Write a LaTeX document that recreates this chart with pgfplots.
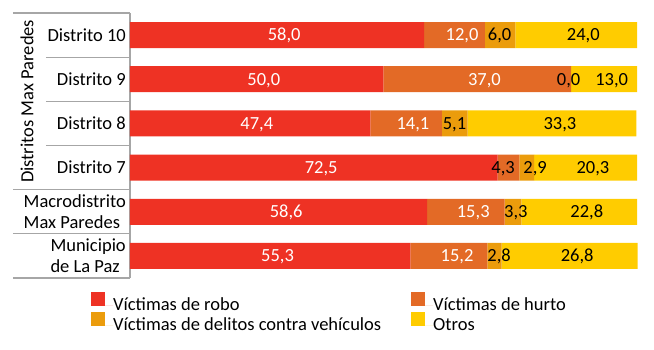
\documentclass[border=0pt]{standalone}
\usepackage{fontspec}
\setmainfont{Carlito}
\usepackage{pgfplots}
\usepackage{pgfplotstable}
\pgfplotsset{compat=1.18}
\definecolor{robo}{HTML}{EE3224}
\definecolor{hurto}{HTML}{E36A26}
\definecolor{veh}{HTML}{EB9C0C}
\definecolor{otros}{HTML}{FFCC00}
\definecolor{linegray}{HTML}{A6A6A6}
\pgfplotstableread{
y robo hurto veh otros
0 58.0 12.0 6.0 24.0
1 50.0 37.0 0.0 13.0
2 47.4 14.1 5.1 33.3
3 72.5 4.3 2.9 20.3
4 58.6 15.3 3.3 22.8
5 55.3 15.2 2.8 26.8
}\datatable
\pgfplotstableread{
x y v
30.4 0 58,0
65.5 0 12,0
26.4 1 50,0
69.9 1 37,0
25.0 2 47,4
55.8 2 14,1
37.7 3 72,5
30.8 4 58,6
67.7 4 15,3
29.1 5 55,3
64.5 5 15,2
}\whitelabels
\pgfplotstableread{
x y v
72.9 0 6,0
89.4 0 24,0
86.5 1 0,0
95.0 1 13,0
64.0 2 5,1
84.8 2 33,3
73.6 3 4,3
79.9 3 2,9
91.3 3 20,3
76.1 4 3,3
90.1 4 22,8
72.8 5 2,8
88.2 5 26,8
}\blacklabels
\newcommand{\fs}{\fontsize{18.5}{21}\selectfont}
\begin{document}
\begin{tikzpicture}
\path (-130pt,-72pt) rectangle (524pt,278pt);
\begin{axis}[
  at={(0,0)}, anchor=south west,
  scale only axis, width=507pt, height=265pt,
  xbar stacked, bar width=26pt,
  xmin=0, xmax=100, ymin=-0.5, ymax=5.5, y dir=reverse,
  axis line style={draw=none}, tick style={draw=none},
  xtick=\empty,
  ytick={0,...,5},
  yticklabels={Distrito 10, Distrito 9, Distrito 8, Distrito 7, {Macrodistrito\\Max Paredes}, {Municipio\\de La Paz}},
  yticklabel style={font=\fs, align=left, inner sep=0pt, xshift=-4pt},
  clip=false,
  legend columns=2,
  legend cell align=left,
  legend image code/.code={\fill[#1] (0pt,-0.5pt) rectangle (14pt,13.5pt); \path (0pt,0pt) -- (22pt,0pt);},
  legend style={at={(rel axis cs:0,0)}, anchor=north west, xshift=-39pt, yshift=-14pt,
    draw=none, fill=none, inner sep=0pt, font=\fs, row sep=-3pt, column sep=0pt,
    nodes={inner sep=0pt, text height=14pt, text depth=4pt}},
]
\addplot[fill=robo, draw=none] table[x=robo, y=y] \datatable;
\addlegendentry{\makebox[298pt][l]{Víctimas de robo}}
\addplot[fill=hurto, draw=none] table[x=hurto, y=y] \datatable;
\addlegendentry{Víctimas de hurto}
\addplot[fill=veh, draw=none] table[x=veh, y=y] \datatable;
\addlegendentry{\makebox[298pt][l]{Víctimas de delitos contra vehículos}}
\addplot[fill=otros, draw=none] table[x=otros, y=y] \datatable;
\addlegendentry{Otros}
% separator lines
\draw[linegray, line width=1.1pt] (axis cs:0,-0.5) -- (axis cs:0,5.5);
\draw[linegray, line width=1.1pt] ([xshift=-117pt]axis cs:0,-0.5) -- (axis cs:0,-0.5);
\draw[linegray, line width=1.1pt] ([xshift=-84pt]axis cs:0,0.5) -- (axis cs:0,0.5);
\draw[linegray, line width=1.1pt] ([xshift=-84pt]axis cs:0,1.5) -- (axis cs:0,1.5);
\draw[linegray, line width=1.1pt] ([xshift=-84pt]axis cs:0,2.5) -- (axis cs:0,2.5);
\draw[linegray, line width=1.1pt] ([xshift=-117pt]axis cs:0,3.5) -- (axis cs:0,3.5);
\draw[linegray, line width=1.1pt] ([xshift=-117pt]axis cs:0,4.5) -- (axis cs:0,4.5);
\draw[linegray, line width=1.1pt] ([xshift=-117pt]axis cs:0,5.5) -- (axis cs:0,5.5);
\node[font=\fs, rotate=90, inner sep=0pt] at ([xshift=-103pt]axis cs:0,1.5) {Distritos Max Paredes};
\end{axis}
\begin{axis}[
  at={(0,0)}, anchor=south west,
  scale only axis, width=507pt, height=265pt,
  xmin=0, xmax=100, ymin=-0.5, ymax=5.5, y dir=reverse,
  hide axis, clip=false,
  point meta=explicit symbolic,
]
\addplot[draw=none, mark=none, nodes near coords={\pgfplotspointmeta},
  every node near coord/.append style={font=\fs, text=white, anchor=base, yshift=-5.8pt, inner sep=0pt}]
  table[x=x, y=y, meta=v] \whitelabels;
\addplot[draw=none, mark=none, nodes near coords={\pgfplotspointmeta},
  every node near coord/.append style={font=\fs, text=black, anchor=base, yshift=-5.8pt, inner sep=0pt}]
  table[x=x, y=y, meta=v] \blacklabels;
\end{axis}
\end{tikzpicture}
\end{document}
